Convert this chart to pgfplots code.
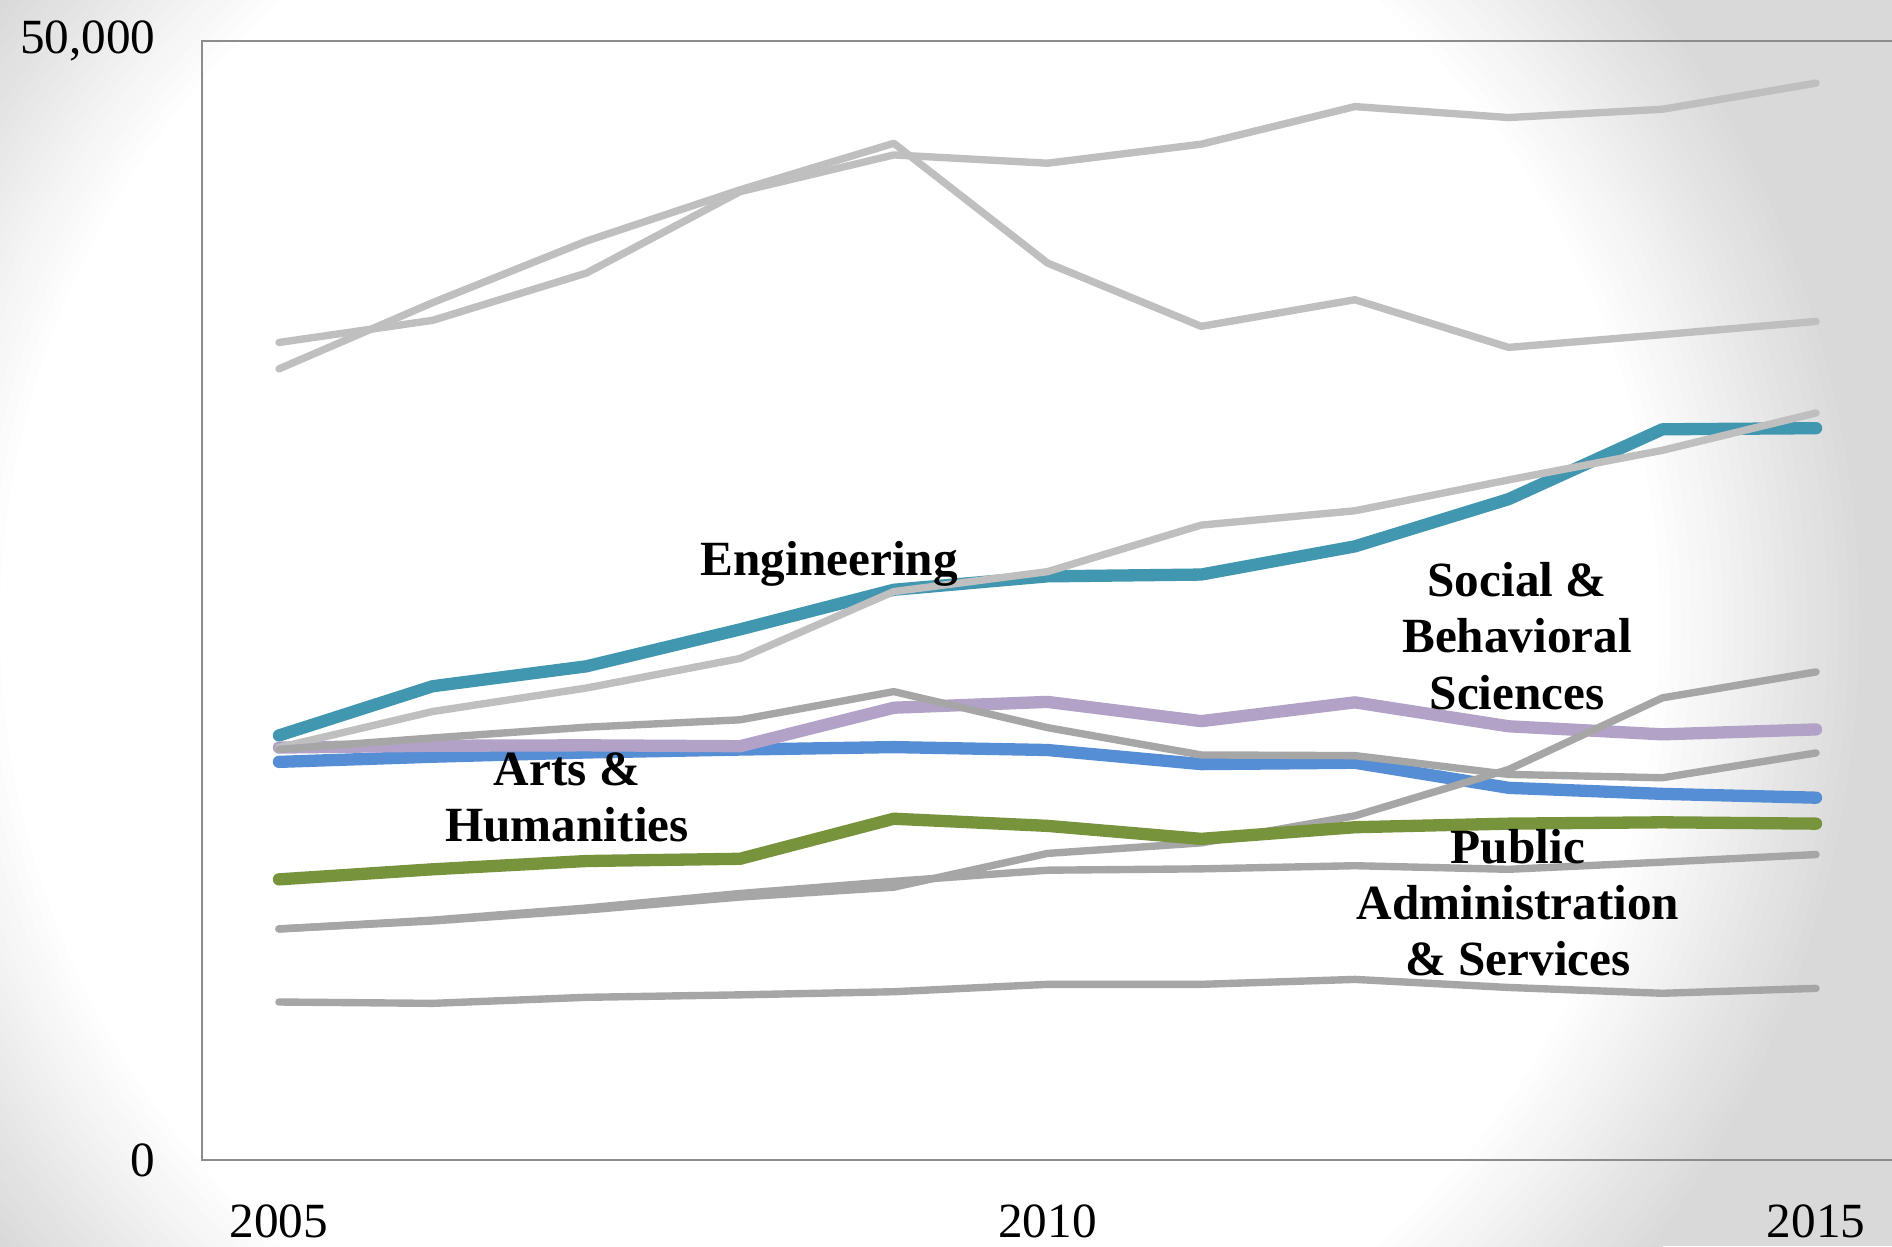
\documentclass[border=0pt]{standalone}
\usepackage{pgfplots}
\pgfplotsset{compat=1.18}
\usepackage{fontspec}
\setmainfont{Liberation Serif}

\definecolor{lgray}{HTML}{BFBFBF}
\definecolor{dgray}{HTML}{A6A6A6}
\definecolor{eng}{HTML}{4097AF}
\definecolor{arts}{HTML}{558ED5}
\definecolor{soc}{HTML}{B3A2C7}
\definecolor{pub}{HTML}{77933C}
\definecolor{axgray}{HTML}{8C8C8C}
\definecolor{bgedge}{HTML}{D9D9D9}

\tikzset{lab/.style={font=\bfseries\fontsize{14}{16}\selectfont, inner sep=0pt, align=center}}

\begin{document}
\begin{tikzpicture}[x=1cm,y=1cm]
\begin{scope}
\clip (0,0) rectangle (18.92,12.46);
\fill[bgedge] (0,0) rectangle (18.92,12.46);
\foreach \i in {0,...,20}{
  \pgfmathsetmacro{\r}{10.4-0.105*\i}
  \pgfmathsetmacro{\p}{100-5*\i}
  \fill[bgedge!\p!white] (8.3,6.23) circle [radius=\r];
}
\end{scope}
\begin{axis}[
  at={(2.021cm,0.86cm)}, anchor=south west,
  width=16.908cm, height=11.19cm, scale only axis,
  xmin=2004.5, xmax=2015.5, ymin=0, ymax=50000,
  scaled y ticks=false,
  axis line style={draw=axgray, line width=0.57pt},
  xtick={2005,2010,2015}, xticklabels={2005,2010,2015},
  ytick={0,50000}, yticklabels={0,{50,000}},
  major tick length=0pt,
  tick label style={font=\fontsize{14}{16}\selectfont},
  yticklabel style={anchor=east, inner sep=0pt, xshift=-4.6mm},
  xticklabel style={anchor=north, inner sep=0pt, yshift=-4.4mm},
  every axis plot/.append style={line join=round, line cap=round},
]
% colored series
\addplot[eng, line width=3.5pt] coordinates {(2005,18970)(2006,21170)(2007,22060)(2008,23710)(2009,25480)(2010,26080)(2011,26160)(2012,27420)(2013,29530)(2014,32650)(2015,32700)};
\addplot[arts, line width=3.5pt] coordinates {(2005,17790)(2006,18020)(2007,18210)(2008,18340)(2009,18450)(2010,18320)(2011,17690)(2012,17750)(2013,16630)(2014,16360)(2015,16190)};
\addplot[soc, line width=3.5pt] coordinates {(2005,18430)(2006,18510)(2007,18530)(2008,18490)(2009,20210)(2010,20470)(2011,19610)(2012,20450)(2013,19380)(2014,19020)(2015,19240)};
% gray series
\addplot[lgray, line width=2.1pt] coordinates {(2005,36530)(2006,37520)(2007,39630)(2008,43270)(2009,44910)(2010,44540)(2011,45390)(2012,47070)(2013,46580)(2014,46950)(2015,48120)};
\addplot[lgray, line width=2.1pt] coordinates {(2005,35350)(2006,38310)(2007,41060)(2008,43350)(2009,45430)(2010,40080)(2011,37250)(2012,38440)(2013,36310)(2014,36880)(2015,37470)};
\addplot[lgray, line width=2.1pt] coordinates {(2005,18430)(2006,20040)(2007,21090)(2008,22410)(2009,25400)(2010,26290)(2011,28370)(2012,29010)(2013,30390)(2014,31710)(2015,33380)};
\addplot[dgray, line width=2.1pt] coordinates {(2005,18350)(2006,18860)(2007,19340)(2008,19670)(2009,20930)(2010,19320)(2011,18100)(2012,18070)(2013,17230)(2014,17080)(2015,18190)};
\addplot[dgray, line width=2.1pt] coordinates {(2005,10330)(2006,10680)(2007,11170)(2008,11750)(2009,12190)(2010,13700)(2011,14170)(2012,15380)(2013,17450)(2014,20650)(2015,21810)};
\addplot[pub, line width=3.5pt] coordinates {(2005,12540)(2006,12990)(2007,13360)(2008,13460)(2009,15250)(2010,14930)(2011,14350)(2012,14870)(2013,15030)(2014,15090)(2015,15030)};
\addplot[dgray, line width=2.1pt] coordinates {(2005,10320)(2006,10720)(2007,11260)(2008,11910)(2009,12450)(2010,12950)(2011,13010)(2012,13150)(2013,12990)(2014,13310)(2015,13650)};
\addplot[dgray, line width=2.1pt] coordinates {(2005,7060)(2006,7000)(2007,7270)(2008,7380)(2009,7520)(2010,7850)(2011,7850)(2012,8070)(2013,7710)(2014,7450)(2015,7670)};
% labels
\node[lab] at (axis cs:2008.58,26650) {Engineering};
\node[lab] at (axis cs:2006.874,16190) {Arts \&\\Humanities};
\node[lab] at (axis cs:2013.055,23410) {Social \&\\Behavioral\\Sciences};
\node[lab] at (axis cs:2013.06,11510) {Public\\Administration\\\& Services};
\end{axis}
\pgfresetboundingbox
\path[use as bounding box] (0,0) rectangle (18.92,12.46);
\end{tikzpicture}
\end{document}
